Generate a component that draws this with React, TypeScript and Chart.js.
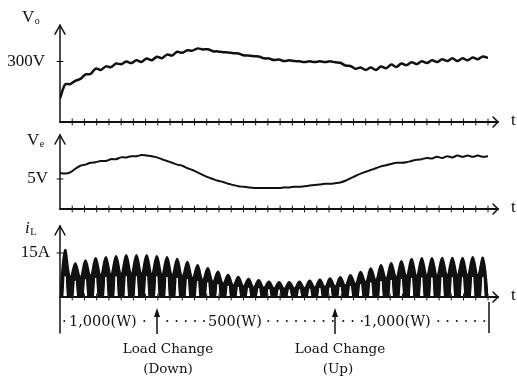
import React, { useEffect, useRef } from 'react';
import { Chart, registerables } from 'chart.js';
Chart.register(...registerables);

const W = 517;
const H = 377;
const INK = '#111';
const SERIF = '"Liberation Serif", "Times New Roman", serif';
const ANNOT_FONT = '"DejaVu Serif", serif';

// time axis: one unit = one ripple (rectified half) cycle
const T_MAX = 42;
const TICK_STEP = 1.2;
const halfCycles = Array.from({ length: 85 }, (_, i) => i / 2);

// Vo [V], sampled every half ripple cycle
const voValues = [
  117, 186, 188, 204, 214, 236, 238, 265, 258, 276,
  272, 290, 286, 300, 292, 306, 298, 315, 306, 324,
  316, 334, 330, 348, 343, 356, 354, 365, 360, 361,
  351, 350, 346, 345, 341, 340, 331, 330, 326, 325,
  316, 315, 307, 310, 302, 306, 302, 301, 297, 301,
  297, 301, 297, 301, 296, 294, 280, 278, 264, 270,
  258, 270, 258, 275, 266, 285, 273, 290, 282, 296,
  287, 301, 292, 306, 297, 311, 302, 316, 302, 316,
  306, 320, 311, 325, 318,
];
const voTicks = [300];
const voTickLabels = ['300V'];

// Ve [V]
const veValues = [
  6.0, 5.9, 6.1, 6.7, 7.2, 7.4, 7.7, 7.8, 8.0, 8.0,
  8.3, 8.3, 8.6, 8.6, 8.8, 8.8, 9.0, 8.9, 8.8, 8.6,
  8.3, 8.0, 7.7, 7.4, 7.2, 6.8, 6.5, 6.1, 5.7, 5.3,
  5.0, 4.7, 4.5, 4.2, 4.0, 3.8, 3.7, 3.6, 3.5, 3.5,
  3.5, 3.5, 3.5, 3.5, 3.6, 3.6, 3.7, 3.7, 3.8, 3.9,
  4.0, 4.1, 4.2, 4.2, 4.3, 4.4, 4.7, 5.1, 5.5, 5.9,
  6.2, 6.5, 6.8, 7.1, 7.3, 7.5, 7.7, 7.7, 7.8, 8.0,
  8.2, 8.3, 8.5, 8.4, 8.7, 8.5, 8.8, 8.6, 8.9, 8.7,
  8.9, 8.7, 8.9, 8.7, 8.8,
];
const veTicks = [5];
const veTickLabels = ['5V'];

// iL [A]: per ripple cycle, upper-envelope peak, notch between humps, inner (lower envelope) spike
const ilPeaks = [
  16, 11.5, 12.5, 13.3, 13.6, 14, 14.3, 14.3, 14.3, 14,
  13.6, 13, 12, 10.9, 9.9, 8.7, 7.6, 6.9, 6.2, 5.8,
  5.3, 5.1, 5.1, 5.3, 5.6, 6.0, 6.4, 6.8, 7.5, 8.6,
  9.8, 10.9, 11.6, 12.3, 13.0, 13.3, 13.3, 13.4, 13.4, 13.4,
  13.6, 13.4,
];
const ilNotches = [
  0, 6.5, 6.6, 7.1, 7.4, 7.6, 7.8, 7.9, 7.9, 7.8,
  7.6, 7.3, 6.9, 6.3, 5.7, 5.1, 4.5, 4.0, 3.6, 3.3,
  3.1, 2.9, 2.8, 2.9, 3.0, 3.2, 3.4, 3.6, 3.9, 4.4,
  5.0, 5.7, 6.2, 6.6, 7.0, 7.2, 7.3, 7.3, 7.4, 7.4,
  7.4, 7.4, 0,
];
const ilInner = [
  7, 5.5, 6, 6.5, 6.8, 7, 7, 7, 7, 7,
  6.8, 6.5, 6, 5.4, 4.9, 4.3, 3.8, 3.4, 3.1, 2.9,
  2.6, 2.5, 2.5, 2.6, 2.8, 3, 3.2, 3.4, 3.7, 4.3,
  4.9, 5.4, 5.8, 6.1, 6.5, 6.6, 6.6, 6.7, 6.7, 6.7,
  6.8, 6.7,
];
const ilTicks = [15];
const ilTickLabels = ['15A'];

type Cfg = {
  top: number;
  bottom: number;
  yMax: number;
  ticks: number[];
  tickLabels: string[];
  labelPad: number;
  datasets: any[];
  name: string;
  sub: string;
  nameX: number;
  nameY: number;
  italic?: boolean;
  extendBelow?: number;
  annotations?: boolean;
};

function drawAnnotations(ctx: CanvasRenderingContext2D) {
  ctx.save();
  ctx.fillStyle = INK;
  ctx.strokeStyle = INK;
  ctx.textBaseline = 'middle';
  ctx.textAlign = 'left';
  ctx.font = `14.5px ${ANNOT_FONT}`;
  const rowY = 322;
  const pieces: [string, number][] = [
    ['·', 62],
    ['1,000(W)', 69],
    ['·', 142],
    ['· · · · ·', 165],
    ['500(W)', 208],
    ['· · · · · · · ·', 266],
    ['· · ·', 341],
    ['1,000(W)', 363],
    ['· · · · · ·', 436],
  ];
  pieces.forEach(([t, x]) => ctx.fillText(t, x, rowY));
  // end bar
  ctx.lineWidth = 1.5;
  ctx.beginPath();
  ctx.moveTo(489, 302);
  ctx.lineTo(489, 333);
  ctx.stroke();
  // arrows
  [157, 335].forEach((x) => {
    ctx.beginPath();
    ctx.moveTo(x, 334);
    ctx.lineTo(x, 314);
    ctx.stroke();
    ctx.beginPath();
    ctx.moveTo(x, 308);
    ctx.lineTo(x - 3, 317);
    ctx.lineTo(x + 3, 317);
    ctx.closePath();
    ctx.fill();
  });
  ctx.font = `13.5px ${ANNOT_FONT}`;
  ctx.textAlign = 'center';
  ctx.fillText('Load Change', 168, 349);
  ctx.fillText('(Down)', 168, 369);
  ctx.fillText('Load Change', 340, 349);
  ctx.fillText('(Up)', 338, 369);
  ctx.restore();
}

function makeDecor(cfg: Cfg) {
  return {
    id: 'decor',
    afterDraw(chart: any) {
      const ctx: CanvasRenderingContext2D = chart.ctx;
      const { left, right, top, bottom } = chart.chartArea;
      const xs = chart.scales.x;
      const ys = chart.scales.y;
      const y0 = ys.getPixelForValue(0);
      ctx.save();
      ctx.strokeStyle = INK;
      ctx.fillStyle = INK;
      ctx.lineCap = 'round';
      // vertical axis with open arrow
      ctx.lineWidth = 1.5;
      ctx.beginPath();
      ctx.moveTo(left, bottom + (cfg.extendBelow || 0));
      ctx.lineTo(left, top);
      ctx.stroke();
      ctx.beginPath();
      ctx.moveTo(left - 5, top + 9);
      ctx.lineTo(left, top);
      ctx.lineTo(left + 5, top + 9);
      ctx.stroke();
      // horizontal axis with open arrow
      const xEnd = right + 10;
      ctx.lineWidth = 2;
      ctx.beginPath();
      ctx.moveTo(left, y0);
      ctx.lineTo(xEnd, y0);
      ctx.stroke();
      ctx.lineWidth = 1.5;
      ctx.beginPath();
      ctx.moveTo(xEnd - 5, y0 - 5);
      ctx.lineTo(xEnd, y0);
      ctx.lineTo(xEnd - 5, y0 + 5);
      ctx.stroke();
      // time ticks crossing the axis
      ctx.lineWidth = 1;
      for (let v = TICK_STEP; v < T_MAX + 0.5; v += TICK_STEP) {
        const px = xs.getPixelForValue(v);
        ctx.beginPath();
        ctx.moveTo(px, y0 - 3);
        ctx.lineTo(px, y0 + 3);
        ctx.stroke();
      }
      // value ticks crossing the vertical axis
      ys.ticks.forEach((t: any) => {
        const py = ys.getPixelForValue(t.value);
        ctx.beginPath();
        ctx.moveTo(left - 3, py);
        ctx.lineTo(left + 3, py);
        ctx.stroke();
      });
      // t label
      ctx.font = `17px ${SERIF}`;
      ctx.textBaseline = 'middle';
      ctx.textAlign = 'left';
      ctx.fillText('t', right + 23, y0 - 1);
      // axis name with subscript
      ctx.textBaseline = 'alphabetic';
      ctx.font = `${cfg.italic ? 'italic ' : ''}17px ${SERIF}`;
      ctx.fillText(cfg.name, cfg.nameX, cfg.nameY);
      const w = ctx.measureText(cfg.name).width;
      ctx.font = `10px ${SERIF}`;
      ctx.fillText(cfg.sub, cfg.nameX + w + 0.5, cfg.nameY + 2);
      ctx.restore();
      if (cfg.annotations) drawAnnotations(ctx);
    },
  };
}

function makeConfig(cfg: Cfg): any {
  return {
    type: 'line',
    data: { datasets: cfg.datasets },
    options: {
      responsive: false,
      animation: false,
      layout: { padding: { top: cfg.top, bottom: H - cfg.bottom, left: 0, right: W - 488 } },
      plugins: { legend: { display: false }, tooltip: { enabled: false } },
      elements: { point: { radius: 0 } },
      scales: {
        x: { type: 'linear', min: 0, max: T_MAX, display: false },
        y: {
          type: 'linear',
          min: 0,
          max: cfg.yMax,
          afterFit: (s: any) => {
            s.width = 60;
          },
          afterBuildTicks: (s: any) => {
            s.ticks = cfg.ticks.map((v) => ({ value: v }));
          },
          grid: { display: false, drawTicks: false },
          border: { display: false },
          ticks: {
            padding: cfg.labelPad,
            color: INK,
            font: { family: SERIF, size: 17 },
            callback: (v: number) => {
              const i = cfg.ticks.indexOf(v);
              return i >= 0 ? cfg.tickLabels[i] : '';
            },
          },
        },
      },
    },
    plugins: [makeDecor(cfg)],
  };
}

const ilUpper: { x: number; y: number }[] = [];
ilNotches.forEach((n, i) => {
  ilUpper.push({ x: i, y: n });
  if (i < ilPeaks.length) ilUpper.push({ x: i + 0.5, y: ilPeaks[i] });
});
const ilLower: { x: number; y: number }[] = [];
ilInner.forEach((v, i) => {
  ilLower.push({ x: i + 0.38, y: 0 });
  ilLower.push({ x: i + 0.5, y: v });
  ilLower.push({ x: i + 0.62, y: 0 });
});

const panels: Cfg[] = [
  {
    top: 24,
    bottom: 122,
    yMax: 480,
    ticks: voTicks,
    tickLabels: voTickLabels,
    labelPad: 15,
    name: 'V',
    sub: 'o',
    nameX: 22,
    nameY: 22,
    datasets: [
      {
        data: halfCycles.map((t, i) => ({ x: t, y: voValues[i] })),
        borderColor: INK,
        borderWidth: 2.5,
        tension: 0.3,
        fill: false,
      },
    ],
  },
  {
    top: 135,
    bottom: 209,
    yMax: 12.33,
    ticks: veTicks,
    tickLabels: veTickLabels,
    labelPad: 12,
    name: 'V',
    sub: 'e',
    nameX: 27,
    nameY: 145,
    datasets: [
      {
        data: halfCycles.map((t, i) => ({ x: t, y: veValues[i] })),
        borderColor: INK,
        borderWidth: 2,
        tension: 0.3,
        fill: false,
      },
    ],
  },
  {
    top: 226,
    bottom: 297,
    yMax: 24.2,
    ticks: ilTicks,
    tickLabels: ilTickLabels,
    labelPad: 10,
    name: 'i',
    sub: 'L',
    nameX: 25,
    nameY: 233,
    italic: true,
    extendBelow: 36,
    annotations: true,
    datasets: [
      {
        data: ilLower,
        borderColor: '#fff',
        borderWidth: 1,
        backgroundColor: '#fff',
        tension: 0,
        fill: 'origin',
      },
      {
        data: ilUpper,
        borderColor: INK,
        borderWidth: 2,
        backgroundColor: INK,
        tension: 0.4,
        fill: 'origin',
      },
    ],
  },
];

function Panel({ cfg }: { cfg: Cfg }) {
  const ref = useRef<HTMLCanvasElement>(null);
  useEffect(() => {
    const chart = new Chart(ref.current as HTMLCanvasElement, makeConfig(cfg));
    return () => chart.destroy();
  }, [cfg]);
  return (
    <canvas
      ref={ref}
      width={W}
      height={H}
      style={{ position: 'absolute', left: 0, top: 0, width: W, height: H }}
    />
  );
}

export default function App() {
  return (
    <div style={{ position: 'fixed', left: 0, top: 0, width: W, height: H, background: '#fff', overflow: 'hidden' }}>
      {panels.map((p, i) => (
        <Panel key={i} cfg={p} />
      ))}
    </div>
  );
}
